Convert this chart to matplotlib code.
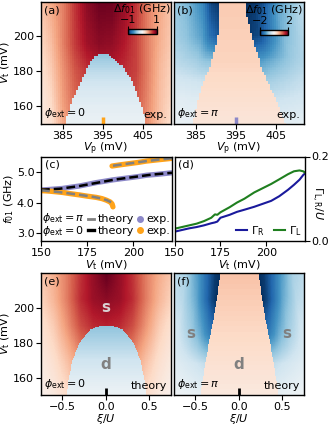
import numpy as np
import matplotlib
matplotlib.use('Agg')
import matplotlib.pyplot as plt
from matplotlib.lines import Line2D

plt.rcParams['font.size'] = 8
plt.rcParams['axes.linewidth'] = 1.0
plt.rcParams['xtick.major.size'] = 3.5
plt.rcParams['ytick.major.size'] = 3.5
plt.rcParams['xtick.major.pad'] = 1.5
plt.rcParams['ytick.major.pad'] = 1.2

# ---------------- (a) experiment, phi_ext = 0 ----------------
a_dome_vt = [150, 154.5, 164, 173.4, 182.7, 186.5, 188.5, 189.6]
a_dome_left = [385.6, 386.0, 387.4, 389.4, 391.3, 392.3, 393.2, 394.2]
a_dome_right = [405.4, 405.2, 403.8, 402.2, 399.7, 397.3, 396.8, 396.0]
a_d_vt = [150, 160, 170, 180, 189.6]
a_d_vals = [-0.06, -0.1, -0.16, -0.26, -0.4]
a_s_vp = [379.5, 382, 385, 388, 391, 394, 397, 400, 403, 406, 409, 412]
a_s_vt = [150, 165, 180, 195, 219]
a_s_table = [
    [0.08, 0.15, 0.38, 0.52, 0.60, 0.62, 0.62, 0.60, 0.58, 0.45, 0.28, 0.16],
    [0.10, 0.20, 0.42, 0.58, 0.66, 0.70, 0.70, 0.68, 0.64, 0.48, 0.30, 0.20],
    [0.15, 0.25, 0.45, 0.62, 0.72, 0.78, 0.78, 0.74, 0.68, 0.50, 0.32, 0.22],
    [0.20, 0.30, 0.50, 0.70, 0.84, 0.90, 0.88, 0.80, 0.68, 0.50, 0.35, 0.25],
    [0.28, 0.38, 0.50, 0.72, 0.90, 0.98, 0.98, 0.88, 0.72, 0.50, 0.38, 0.28],
]

# ---------------- (b) experiment, phi_ext = pi ----------------
b_vt = [150, 151.5, 164, 173.5, 182.7, 188.4, 192, 201.2, 210.9, 219]
b_left = [384.1, 384.3, 385.6, 386.8, 388.5, 389.3, 389.75, 390.6, 390.7, 390.75]
b_right = [407.0, 406.8, 404.75, 402.7, 401.0, 400.4, 399.75, 398.5, 397.5, 397.25]
b_c_vt = [150, 185, 219]
b_c_vals = [0.24, 0.44, 0.52]
b_off = [0, 2, 4, 8, 14, 25]
b_rows_vt = [150, 165, 175, 185, 200, 219]
b_left_table = [
    [-0.15, -0.15, -0.14, -0.13, -0.12, -0.10],
    [-0.25, -0.25, -0.23, -0.22, -0.20, -0.20],
    [-0.45, -0.42, -0.40, -0.35, -0.30, -0.27],
    [-0.80, -0.75, -0.65, -0.55, -0.42, -0.35],
    [-1.70, -1.50, -1.10, -0.80, -0.55, -0.40],
    [-1.95, -1.85, -1.30, -0.90, -0.60, -0.45],
]
b_right_table = [
    [-0.20, -0.20, -0.18, -0.16, -0.13, -0.12],
    [-0.45, -0.42, -0.40, -0.35, -0.27, -0.25],
    [-0.70, -0.65, -0.60, -0.50, -0.35, -0.30],
    [-1.10, -1.00, -0.90, -0.70, -0.45, -0.35],
    [-1.90, -1.80, -1.50, -0.90, -0.50, -0.40],
    [-2.00, -1.95, -1.80, -1.10, -0.55, -0.40],
]
cut_vp = 395

# ---------------- (c) f01 line cuts ----------------
vt_pi_exp = [150, 155, 161.6, 166, 170.8, 175, 179.9, 185, 189, 194, 198, 203, 207.2, 213, 221]
f_pi_exp = [4.41, 4.43, 4.46, 4.50, 4.54, 4.59, 4.65, 4.70, 4.74, 4.78, 4.81, 4.85, 4.89, 4.92, 4.97]
vt_pi_th = [150, 160, 170, 180, 190, 200, 210, 221]
f_pi_th = [4.42, 4.45, 4.53, 4.64, 4.75, 4.83, 4.91, 4.97]
vt0_lo_exp = [150, 155, 161.6, 166, 170.8, 175, 179.9, 183, 185.4, 187.5, 188.5, 189]
f0_lo_exp = [4.39, 4.37, 4.33, 4.29, 4.25, 4.21, 4.17, 4.13, 4.08, 4.02, 3.96, 3.86]
vt0_hi_exp = [188.5, 193, 198, 203, 207, 213, 221]
f0_hi_exp = [5.19, 5.23, 5.27, 5.31, 5.35, 5.39, 5.44]
vt0_lo_th = [150, 160, 170, 178, 183, 186, 188]
f0_lo_th = [4.40, 4.34, 4.26, 4.19, 4.13, 4.07, 4.01]
vt0_hi_th = [189, 195, 200, 207, 214, 221]
f0_hi_th = [5.20, 5.25, 5.29, 5.35, 5.40, 5.44]

# ---------------- (d) couplings ----------------
vt_gam = [150, 154, 158, 162, 166, 170, 172, 173.3, 175, 180, 184, 188,
          193.4, 198, 202.6, 207, 211.7, 215, 218, 220, 221]
gamma_R = [0.022, 0.026, 0.030, 0.033, 0.037, 0.042, 0.044, 0.046, 0.055, 0.062, 0.069, 0.074,
           0.081, 0.088, 0.095, 0.106, 0.121, 0.133, 0.145, 0.156, 0.160]
gamma_L = [0.029, 0.033, 0.037, 0.041, 0.047, 0.055, 0.063, 0.062, 0.068, 0.080, 0.091, 0.100,
           0.115, 0.125, 0.135, 0.146, 0.158, 0.165, 0.167, 0.165, 0.162]

# ---------------- (e) theory, phi_ext = 0 ----------------
e_dome_vt = [150, 160, 170, 180, 185, 187.8, 189.0, 189.6]
e_dome_half = [0.46, 0.43, 0.39, 0.31, 0.23, 0.18, 0.12, 0.04]
e_d_vt = [150, 160, 170, 180, 189.6]
e_d_vals = [-0.05, -0.12, -0.2, -0.3, -0.4]
e_s_xi = [-0.75, -0.6, -0.45, -0.3, -0.15, 0, 0.15, 0.3, 0.45, 0.6, 0.75]
e_s_vt = [150, 170, 190, 205, 220]
e_s_table = [
    [0.05, 0.10, 0.18, 0.30, 0.40, 0.45, 0.40, 0.30, 0.18, 0.10, 0.05],
    [0.09, 0.17, 0.30, 0.45, 0.55, 0.60, 0.55, 0.45, 0.30, 0.17, 0.09],
    [0.15, 0.26, 0.45, 0.65, 0.75, 0.78, 0.75, 0.65, 0.45, 0.26, 0.15],
    [0.22, 0.34, 0.52, 0.74, 0.86, 0.90, 0.86, 0.74, 0.52, 0.34, 0.22],
    [0.27, 0.37, 0.52, 0.72, 0.88, 1.00, 0.88, 0.72, 0.52, 0.37, 0.27],
]

# ---------------- (f) theory, phi_ext = pi ----------------
f_vt = [150, 178, 197, 220]
f_half = [0.45, 0.36, 0.285, 0.22]
f_c_vt = [150, 185, 220]
f_c_vals = [0.2, 0.4, 0.58]
f_off = [0, 0.05, 0.13, 0.24, 0.39, 0.6]
f_rows_vt = [150, 168, 185, 205, 220]
f_out_table = [
    [-0.15, -0.14, -0.12, -0.10, -0.07, -0.05],
    [-0.50, -0.45, -0.38, -0.30, -0.20, -0.15],
    [-1.40, -1.25, -0.95, -0.65, -0.35, -0.25],
    [-2.00, -1.85, -1.50, -1.00, -0.55, -0.35],
    [-2.00, -1.95, -1.65, -1.20, -0.65, -0.45],
]
cut_xi = 0.0

purple = '#8c88c8'
orange = '#ffa31a'


def table_map(xq, yg, xcols, yrows, table):
    table = np.asarray(table, float)
    out = np.empty(xq.shape)
    for i, y in enumerate(yg):
        cols = [np.interp(y, yrows, table[:, k]) for k in range(table.shape[1])]
        out[i] = np.interp(xq[i], xcols, cols)
    return out


def px(l, t, r, b):
    return [l / 330, 1 - b / 430, (r - l) / 330, (b - t) / 430]


fig = plt.figure(figsize=(3.3, 4.3), dpi=100)
ax_a = fig.add_axes(px(40.5, 2, 171, 124))
ax_b = fig.add_axes(px(173.5, 2, 304, 124))
ax_c = fig.add_axes(px(41, 156.5, 172, 241))
ax_d = fig.add_axes(px(174.5, 156.5, 305, 241))
ax_e = fig.add_axes(px(40.5, 273, 171, 395))
ax_f = fig.add_axes(px(173.5, 273, 304, 395))

# ---- (a)
vp = np.arange(379.5, 412.01, 0.5)
vt = np.arange(150, 219.1, 1.0)
X, Y = np.meshgrid(vp, vt)
s_a = table_map(X, vt, a_s_vp, a_s_vt, a_s_table)
lft = np.interp(vt, a_dome_vt, a_dome_left)[:, None]
rgt = np.interp(vt, a_dome_vt, a_dome_right)[:, None]
in_d = (X > lft) & (X < rgt) & (Y <= a_dome_vt[-1])
d_a = np.interp(vt, a_d_vt, a_d_vals)[:, None] * np.ones_like(X)
map_a = np.where(in_d, d_a, s_a)
ext = [vp[0] - 0.25, vp[-1] + 0.25, vt[0] - 0.5, vt[-1] + 0.5]
im_a = ax_a.imshow(map_a, extent=ext, origin='lower', aspect='auto', cmap='RdBu_r',
                   vmin=-1, vmax=1, interpolation='nearest')

# ---- (b)
lft = np.interp(vt, b_vt, b_left)[:, None]
rgt = np.interp(vt, b_vt, b_right)[:, None]
bl = table_map(lft - X, vt, b_off, b_rows_vt, b_left_table)
br = table_map(X - rgt, vt, b_off, b_rows_vt, b_right_table)
cen = np.interp(vt, b_c_vt, b_c_vals)[:, None] * np.ones_like(X)
map_b = np.where(X < lft, bl, np.where(X > rgt, br, cen))
im_b = ax_b.imshow(map_b, extent=ext, origin='lower', aspect='auto', cmap='RdBu_r',
                   vmin=-2, vmax=2, interpolation='nearest')

for ax in (ax_a, ax_b):
    ax.set_xlim(379.5, 412)
    ax.set_ylim(150, 219)
    ax.set_xticks([385, 395, 405])
    ax.set_xlabel(r'$V_\mathrm{p}$ (mV)', labelpad=0)
    ax.text(0.97, 0.03, 'exp.', transform=ax.transAxes, ha='right', va='bottom')
ax_a.set_yticks([160, 180, 200])
ax_a.set_ylabel(r'$V_\mathrm{t}$ (mV)', labelpad=0.5)
ax_b.set_yticks([])
ax_a.text(0.03, 0.97, '(a)', transform=ax_a.transAxes, va='top')
ax_b.text(0.03, 0.97, '(b)', transform=ax_b.transAxes, va='top')
ax_a.text(0.03, 0.03, r'$\phi_\mathrm{ext}=0$', transform=ax_a.transAxes, va='bottom')
ax_b.text(0.03, 0.03, r'$\phi_\mathrm{ext}=\pi$', transform=ax_b.transAxes, va='bottom')
ax_a.plot([cut_vp, cut_vp], [0, 0.06], transform=ax_a.get_xaxis_transform(),
          color=orange, lw=2.5, solid_capstyle='butt')
ax_b.plot([cut_vp, cut_vp], [0, 0.06], transform=ax_b.get_xaxis_transform(),
          color=purple, lw=2.5, solid_capstyle='butt')

for ax, im, ticks, pos in ((ax_a, im_a, [-1, 1], [0.67, 0.735, 0.22, 0.045]),
                           (ax_b, im_b, [-2, 2], [0.66, 0.73, 0.22, 0.04])):
    cax = ax.inset_axes(pos)
    cb = fig.colorbar(im, cax=cax, orientation='horizontal', ticks=ticks)
    cax.xaxis.set_ticks_position('top')
    cax.xaxis.set_label_position('top')
    cax.tick_params(length=2, pad=1)
    cb.outline.set_linewidth(1)
    cb.set_label(r'$\Delta f_{01}$ (GHz)', labelpad=2)

# ---- (c)
ax_c.plot(vt_pi_exp, f_pi_exp, color=purple, lw=3.8, solid_capstyle='round')
ax_c.plot(vt0_lo_exp, f0_lo_exp, color=orange, lw=3.8, solid_capstyle='round')
ax_c.plot(vt0_hi_exp, f0_hi_exp, color=orange, lw=3.8, solid_capstyle='round')
ax_c.plot(vt_pi_th, f_pi_th, color='k', lw=1.8, dashes=(3.5, 1.6))
ax_c.plot(vt0_lo_th, f0_lo_th, color='gray', lw=1.8, dashes=(3.5, 1.6))
ax_c.plot(vt0_hi_th, f0_hi_th, color='gray', lw=1.8, dashes=(3.5, 1.6))
ax_c.set_xlim(150, 221)
ax_c.set_ylim(2.75, 5.5)
ax_c.set_xticks([150, 175, 200])
ax_c.set_yticks([3, 4, 5])
ax_c.set_yticklabels(['3.0', '4.0', '5.0'])
ax_c.set_xlabel(r'$V_\mathrm{t}$ (mV)', labelpad=0)
ax_c.set_ylabel(r'$f_{01}$ (GHz)', labelpad=0.5)
ax_c.text(0.03, 0.96, '(c)', transform=ax_c.transAxes, va='top')
ax_c.text(0.01, 0.27, r'$\phi_\mathrm{ext}=\pi$', transform=ax_c.transAxes, va='center')
ax_c.text(0.01, 0.115, r'$\phi_\mathrm{ext}=0$', transform=ax_c.transAxes, va='center')
handles = [Line2D([], [], color='gray', lw=2), Line2D([], [], color='k', lw=2.4),
           Line2D([], [], color=purple, marker='o', ls='none', ms=4),
           Line2D([], [], color=orange, marker='o', ls='none', ms=4)]
ax_c.legend(handles, ['theory', 'theory', 'exp.', 'exp.'], ncol=2, loc='center left',
            bbox_to_anchor=(0.355, 0.19), frameon=False, handlelength=0.6,
            handletextpad=0.3, columnspacing=0.25, labelspacing=0.1,
            borderpad=0, borderaxespad=0)

# ---- (d)
ax_d.plot(vt_gam, gamma_R, color='#1a1a9c', lw=1.5, label=r'$\Gamma_\mathrm{R}$')
ax_d.plot(vt_gam, gamma_L, color='#1f7f1f', lw=1.5, label=r'$\Gamma_\mathrm{L}$')
ax_d.set_xlim(150, 221)
ax_d.set_ylim(0, 0.2)
ax_d.set_xticks([150, 175, 200])
ax_d.yaxis.tick_right()
ax_d.set_yticks([0, 0.2])
ax_d.set_yticklabels(['0.0', '0.2'])
ax_d.yaxis.set_label_position('right')
ax_d.set_ylabel(r'$\Gamma_\mathrm{L,R}/U$', rotation=270, ha='center', va='center')
ax_d.yaxis.set_label_coords(1.09, 0.45)
ax_d.set_xlabel(r'$V_\mathrm{t}$ (mV)', labelpad=0)
ax_d.text(0.03, 0.96, '(d)', transform=ax_d.transAxes, va='top')
ax_d.legend(ncol=2, loc='lower right', frameon=False, handlelength=1.0,
            handletextpad=0.4, columnspacing=0.8, borderpad=0.1, borderaxespad=0.2)

# ---- (e)
xi = np.linspace(-0.75, 0.75, 301)
vtt = np.linspace(150, 220, 281)
XI, VT = np.meshgrid(xi, vtt)
s_e = table_map(XI, vtt, e_s_xi, e_s_vt, e_s_table)
half = np.interp(vtt, e_dome_vt, e_dome_half)[:, None]
in_d = (np.abs(XI) < half) & (VT <= e_dome_vt[-1])
d_e = np.interp(vtt, e_d_vt, e_d_vals)[:, None] * np.ones_like(XI)
map_e = np.where(in_d, d_e, s_e)
ext_t = [xi[0], xi[-1], vtt[0], vtt[-1]]
ax_e.imshow(map_e, extent=ext_t, origin='lower', aspect='auto', cmap='RdBu_r',
            vmin=-1, vmax=1, interpolation='nearest')

# ---- (f)
half = np.interp(vtt, f_vt, f_half)[:, None]
off = np.abs(XI) - half
out = table_map(off, vtt, f_off, f_rows_vt, f_out_table)
cen = np.interp(vtt, f_c_vt, f_c_vals)[:, None] * np.ones_like(XI)
map_f = np.where(off > 0, out, cen)
ax_f.imshow(map_f, extent=ext_t, origin='lower', aspect='auto', cmap='RdBu_r',
            vmin=-2, vmax=2, interpolation='nearest')

for ax in (ax_e, ax_f):
    ax.set_xlim(-0.75, 0.75)
    ax.set_ylim(150, 220)
    ax.set_xticks([-0.5, 0, 0.5])
    ax.set_xticklabels(['\u22120.5', '0.0', '0.5'])
    ax.set_xlabel(r'$\xi/U$', labelpad=0)
    ax.text(0.97, 0.03, 'theory', transform=ax.transAxes, ha='right', va='bottom')
    ax.plot([cut_xi, cut_xi], [0, 0.06], transform=ax.get_xaxis_transform(),
            color='k', lw=2, solid_capstyle='butt')
ax_e.set_yticks([160, 180, 200])
ax_e.set_ylabel(r'$V_\mathrm{t}$ (mV)', labelpad=0.5)
ax_f.set_yticks([])
ax_e.text(0.03, 0.97, '(e)', transform=ax_e.transAxes, va='top')
ax_f.text(0.03, 0.97, '(f)', transform=ax_f.transAxes, va='top')
ax_e.text(0.03, 0.03, r'$\phi_\mathrm{ext}=0$', transform=ax_e.transAxes, va='bottom')
ax_f.text(0.03, 0.03, r'$\phi_\mathrm{ext}=\pi$', transform=ax_f.transAxes, va='bottom')
bold = dict(fontsize=11, fontweight='bold', ha='center', va='center')
ax_e.text(0, 200, 's', color='#d9d0d2', **bold)
ax_e.text(0, 167.5, 'd', color='gray', **bold)
ax_f.text(-0.55, 185.5, 's', color='gray', **bold)
ax_f.text(0.55, 185.5, 's', color='gray', **bold)
ax_f.text(0, 167.5, 'd', color='gray', **bold)

fig.savefig('out.png', dpi=100)
